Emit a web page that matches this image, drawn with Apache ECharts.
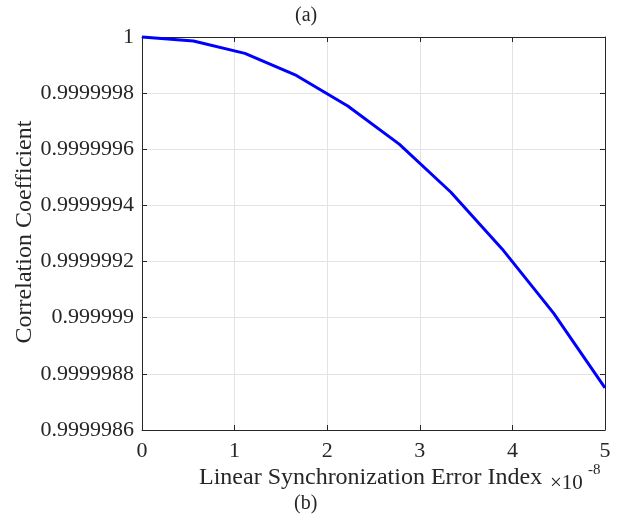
<!DOCTYPE html>
<html>
<head>
<meta charset="utf-8">
<script src="https://cdn.jsdelivr.net/npm/echarts@6/dist/echarts.min.js"></script>
<style>html,body{margin:0;padding:0;background:#fff}#c{width:623px;height:517px}</style>
</head>
<body>
<div id="c"></div>
<script>
// x in units of 1e-8
const xValues = [0, 0.5556, 1.1111, 1.6667, 2.2222, 2.7778, 3.3333, 3.8889, 4.4444, 5];
const corrValues = [1, 0.99999998570, 0.99999994160, 0.99999986290, 0.99999975440, 0.99999961840, 0.99999944790, 0.99999924520, 0.99999901620, 0.99999875030];
const xTicks = [0, 1, 2, 3, 4, 5];
const yTicks = [0.9999986, 0.9999988, 0.999999, 0.9999992, 0.9999994, 0.9999996, 0.9999998, 1];

const FONT = 'Liberation Serif';
const AX = '#262626';
const chart = echarts.init(document.getElementById('c'), null, {renderer: 'canvas'});
const fmtY = v => { let s = v.toFixed(7); s = s.replace(/0+$/, '').replace(/\.$/, ''); return s; };
const common = {
  axisLine: {show: true, onZero: false, lineStyle: {color: AX, width: 1}},
  axisTick: {show: true, inside: true, length: 5, lineStyle: {color: AX}},
};
chart.setOption({
  animation: false,
  grid: {left: 142, right: 18, top: 37, bottom: 87, containLabel: false, outerBoundsMode: 'none'},
  xAxis: [
    Object.assign({
      type: 'value', min: xTicks[0], max: xTicks[xTicks.length - 1], interval: 1,
      axisLabel: {color: AX, fontFamily: FONT, fontSize: 22, margin: 10, formatter: v => String(v)},
      splitLine: {show: true, lineStyle: {color: '#e3e3e3', width: 1}}
    }, common),
    Object.assign({
      type: 'value', position: 'top', min: xTicks[0], max: xTicks[xTicks.length - 1], interval: 1,
      axisLabel: {show: false}, splitLine: {show: false}
    }, common)
  ],
  yAxis: [
    Object.assign({
      type: 'value', min: yTicks[0], max: yTicks[yTicks.length - 1], interval: 0.0000002,
      axisLabel: {color: AX, fontFamily: FONT, fontSize: 22, margin: 8, formatter: fmtY},
      splitLine: {show: true, lineStyle: {color: '#e3e3e3', width: 1}}
    }, common),
    Object.assign({
      type: 'value', position: 'right', min: yTicks[0], max: yTicks[yTicks.length - 1], interval: 0.0000002,
      axisLabel: {show: false}, splitLine: {show: false}
    }, common)
  ],
  series: [{
    type: 'line',
    data: xValues.map((x, i) => [x, corrValues[i]]),
    showSymbol: false,
    lineStyle: {color: '#0000ff', width: 3},
    itemStyle: {color: '#0000ff'},
    clip: false
  }],
  graphic: [
    {type: 'text', x: 25, y: 232, rotation: Math.PI / 2,
     style: {text: 'Correlation Coefficient', font: '24px "Liberation Serif"', fill: AX, align: 'center', verticalAlign: 'middle'}},
    {type: 'text', left: 295, top: 6, style: {text: '(a)', font: '20px "Liberation Serif"', fill: AX}},
    {type: 'text', left: 199, top: 466, style: {text: 'Linear Synchronization Error Index', font: '24px "Liberation Serif"', fill: AX}},
    {type: 'text', left: 550, top: 473, style: {text: '\u00d710', font: '21px "Liberation Serif"', fill: AX}},
    {type: 'text', left: 588, top: 463, style: {text: '-8', font: '15px "Liberation Serif"', fill: AX}},
    {type: 'text', left: 294, top: 494, style: {text: '(b)', font: '20px "Liberation Serif"', fill: AX}}
  ]
});
</script>
</body>
</html>
